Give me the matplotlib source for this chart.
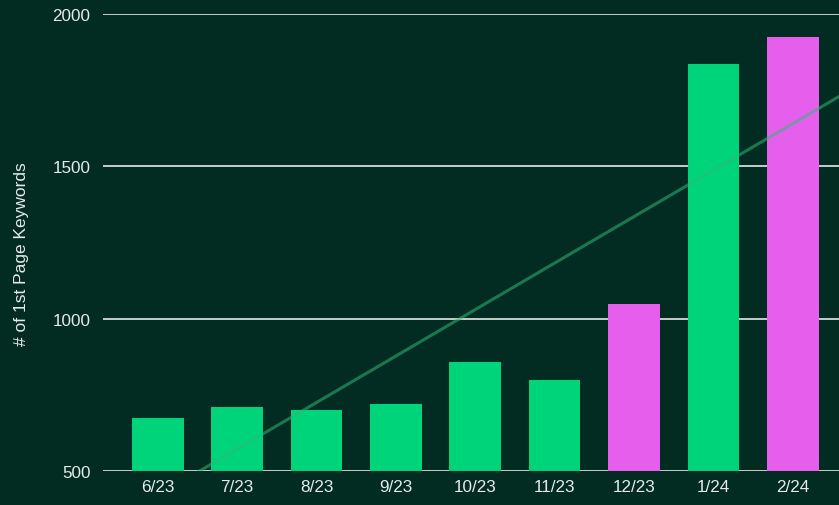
import numpy as np
import matplotlib
matplotlib.use("Agg")
import matplotlib.pyplot as plt

# Monthly count of first-page keywords
months = ["6/23", "7/23", "8/23", "9/23", "10/23", "11/23", "12/23", "1/24", "2/24"]
keywords = [674, 710, 700, 720, 858, 799, 1048, 1836, 1924]
highlight = [False, False, False, False, False, False, True, False, True]
y_ticks = [500, 1000, 1500, 2000]

BG = "#022c22"
GREEN = "#00d47b"
MAGENTA = "#e65fec"
GRID = "#d6dbd8"
TEXT = "#e6ebe8"

plt.rcParams["font.family"] = ["Liberation Sans", "DejaVu Sans"]

fig = plt.figure(figsize=(8.39, 5.06), dpi=100, facecolor=BG)
ax = fig.add_axes([0.1228, 0.0672, 0.8873, 0.9032])
ax.set_facecolor(BG)

x = np.arange(len(months))
colors = [MAGENTA if h else GREEN for h in highlight]
ax.bar(x, keywords, width=0.65, color=colors, zorder=2)

# Linear trendline across the full axis range
slope, intercept = np.polyfit(x, keywords, 1)
xt = np.array([-0.7, len(months) - 0.3])
ax.plot(xt, slope * xt + intercept, color="#2fb878", alpha=0.55, lw=2.2,
        zorder=3, solid_capstyle="butt")

ax.set_xlim(-0.69, len(months) - 0.31)
ax.set_ylim(500, 2000)
ax.set_yticks(y_ticks)
ax.set_xticks(x)
ax.set_xticklabels(months)
ax.yaxis.grid(True, color=GRID, lw=1.3, zorder=1)
ax.set_axisbelow(True)
for s in ax.spines.values():
    s.set_visible(False)
ax.tick_params(axis="both", length=0, colors=TEXT, labelsize=12.3)
ax.tick_params(axis="y", pad=9)
ax.tick_params(axis="x", pad=6)
ax.set_ylabel("# of 1st Page Keywords", color=TEXT, fontsize=12.5)
ax.yaxis.set_label_coords(-0.1, 0.477)

fig.savefig("out.png", dpi=100, facecolor=BG)
